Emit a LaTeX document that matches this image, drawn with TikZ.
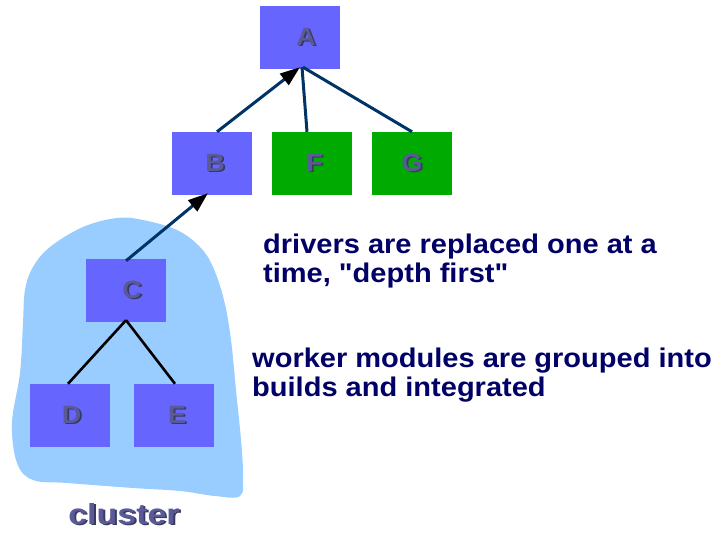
\documentclass[tikz,border=0pt]{standalone}
\usepackage{fontspec}
\setmainfont{Liberation Sans}[Ligatures=TeXOff]
\usepackage{graphicx}
\usetikzlibrary{arrows.meta}

\definecolor{boxblue}{HTML}{6666FF}
\definecolor{boxgreen}{HTML}{00AA00}
\definecolor{blobblue}{HTML}{99CCFF}
\definecolor{linknavy}{HTML}{003366}
\definecolor{lettercol}{HTML}{5A5A99}
\definecolor{lettershadow}{HTML}{383860}
\definecolor{notecol}{HTML}{000066}

% embossed lettering: a dark copy offset below right, the letter on top
\newcommand{\embossed}[1]{\makebox[0pt][l]{\kern1.6pt\raisebox{-1.6pt}{\textcolor{lettershadow}{#1}}}\textcolor{lettercol}{#1}}
\newcommand{\boxlabel}[2]{\hspace*{#1pt}\scalebox{1.075}[1]{\embossed{#2}}}

\begin{document}
\begin{tikzpicture}[x=1pt,y=-1pt,
  module/.style={rectangle,draw=none,minimum width=80pt,minimum height=63pt,inner sep=0pt,
    font=\fontsize{25}{28}\selectfont\bfseries},
  worker/.style={module,fill=boxblue},
  stub/.style={module,fill=boxgreen},
  uplink/.style={draw=linknavy,line width=3pt},
  uparrow/.style={uplink,-{Triangle[length=20pt,width=14pt,color=black]}},
  childlink/.style={draw=black,line width=2.6pt},
  note/.style={anchor=base west,inner sep=0pt,text=notecol,font=\fontsize{27}{29}\selectfont\bfseries}
]
\useasboundingbox (0,0) rectangle (720,534);

% the cluster outline
\fill[blobblue] plot[smooth cycle,tension=0.6] coordinates {
  (117,218) (143,220) (177,230) (200,247) (213,267) (224,300) (231,340)
  (236,390) (241,440) (243,475) (240,496) (215,496) (180,491) (133,488)
  (67,483) (33,480) (17,463) (12,423) (20,373) (23,323) (25,290)
  (33,267) (50,247) (83,227)};

% modules
\node[worker] (A) at (300,37.5) {\boxlabel{12}{A}};
\node[worker] (B) at (212,163.5) {\boxlabel{6}{B}};
\node[stub]   (F) at (312,163.5) {\boxlabel{5}{F}};
\node[stub]   (G) at (412,163.5) {\boxlabel{0}{G}};
\node[worker] (C) at (126,290.5) {\boxlabel{12}{C}};
\node[worker] (D) at (70,415.5)  {\boxlabel{3}{D}};
\node[worker] (E) at (174,415.5) {\boxlabel{6}{E}};

% connectors
\draw[uparrow] ([xshift=5pt]B.north) -- ([xshift=0pt,yshift=2pt]A.south);
\draw[uplink] ([xshift=-5pt]F.north) -- ([xshift=2pt,yshift=2pt]A.south);
\draw[uplink] (G.north) -- ([xshift=3pt,yshift=2pt]A.south);
\draw[uparrow] ([yshift=-2pt]C.north) -- ([xshift=-4pt,yshift=2pt]B.south);
\draw[childlink] ([yshift=2pt]C.south) -- ([xshift=-2pt]D.north);
\draw[childlink] ([yshift=2pt]C.south) -- ([xshift=1pt]E.north);

% notes
\node[note] (n1) at (263,254) {\scalebox{1.075}[1]{\begin{tabular}[t]{@{}l@{}}drivers are replaced one at a\\time, "depth first"\end{tabular}}};
\node[note] (n2) at (252,367) {\scalebox{1.075}[1]{\begin{tabular}[t]{@{}l@{}}worker modules are grouped into\\builds and integrated\end{tabular}}};

% cluster caption
\node[anchor=base,inner sep=0pt,font=\fontsize{29}{32}\selectfont\bfseries] (cap) at (124,524)
  {\scalebox{1.17}[1]{\embossed{cluster}}};
\end{tikzpicture}
\end{document}
